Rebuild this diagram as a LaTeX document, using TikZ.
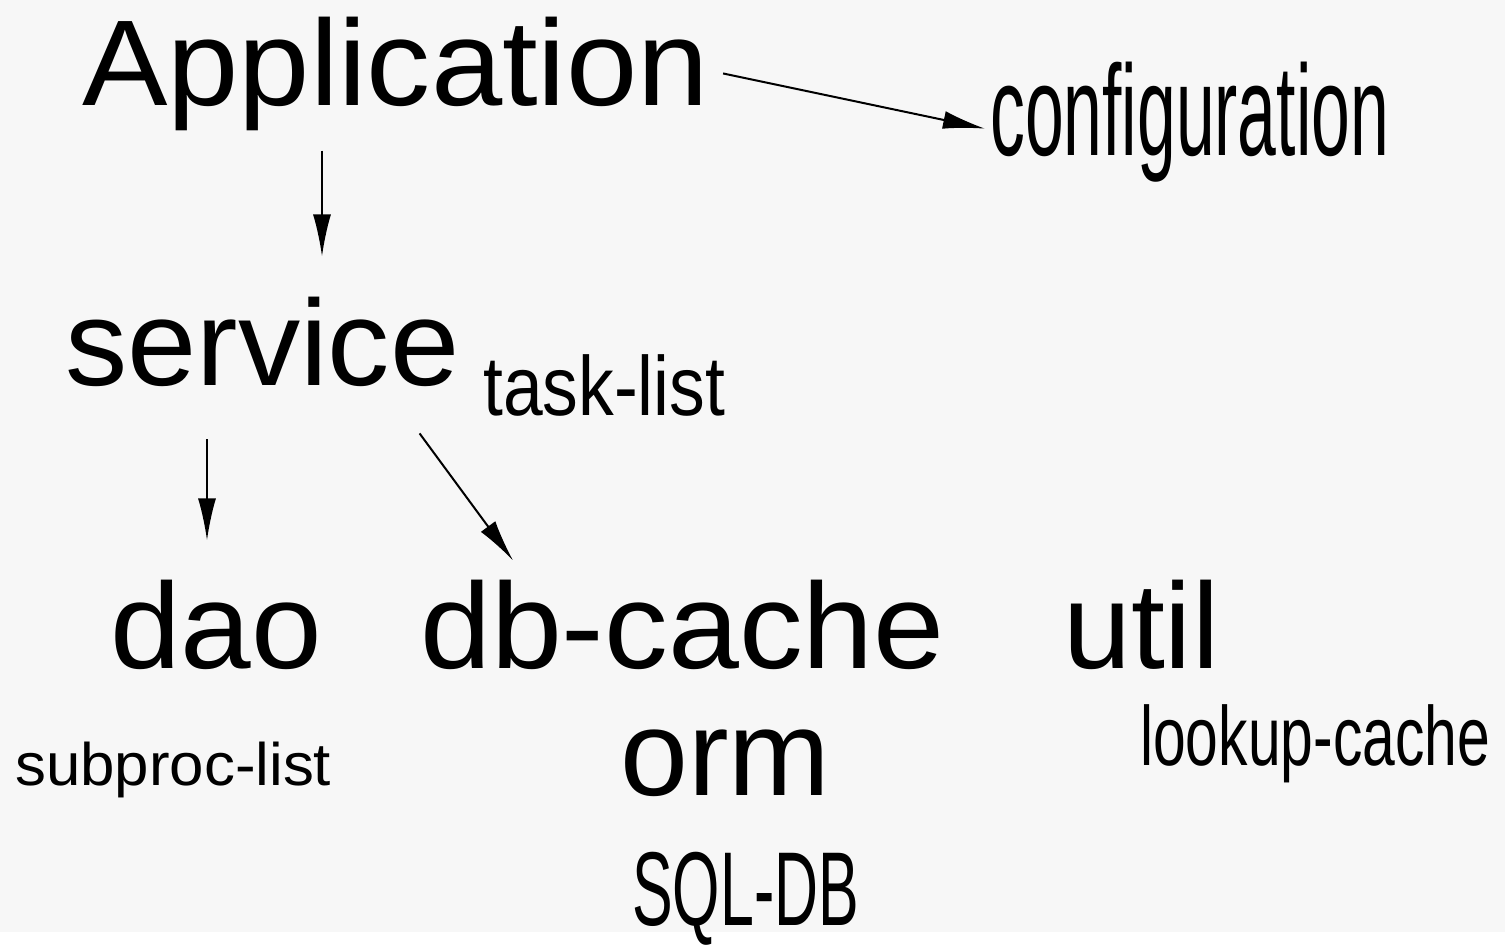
\documentclass[tikz,border=0pt]{standalone}
\usepackage{fontspec}
\setmainfont{Liberation Sans}
\usetikzlibrary{arrows.meta,positioning}

\begin{document}
\begin{tikzpicture}
		[x=1pt,y=-1pt,
			every node/.style={inner sep=0pt,anchor=base west},
			big/.style={font=\fontsize{122}{140}\selectfont},
			mid/.style={font=\fontsize{84}{96}\selectfont},
			tiny/.style={font=\fontsize{60}{70}\selectfont},
			link/.style={-{Latex[length=42pt,width=18pt]},line width=2pt}]
		\fill[black!3] (0,0) rectangle (1505,932);
		% top row
		\node[big] (app) at (82,105) {\scalebox{1.05}[1]{Application}};
		\node[font=\fontsize{129}{140}\selectfont] (conf) at (990,155) {\scalebox{0.54}[1]{configuration}};
		% middle
		\node[big] (serv) at (65,385) {\scalebox{1.02}[1]{service}};
		\node[mid] (task) at (483,415) {\scalebox{0.85}[1]{task-list}};
		% bottom row
		\node[big] (dao) at (110,668) {\scalebox{1.04}[1]{dao}};
		\node[big] (db) at (420,668) {\scalebox{1.045}[1]{db-cache}};
		\node[big] (util) at (1063,668) {util};
		\node[big] (orm) at (620,795) {orm};
		\node[tiny] (sub) at (15,785) {\scalebox{1.03}[1]{subproc-list}};
		\node[mid] (look) at (1140,765) {\scalebox{0.7}[1]{lookup-cache}};
		\node[font=\fontsize{105}{120}\selectfont] (sql) at (632,925) {\scalebox{0.58}[1]{SQL-DB}};
		% arrows
		\draw[link] ([xshift=14pt]app.east) -- ([xshift=-5pt,yshift=-7pt]conf.west);
		\draw[link] ([xshift=240pt,yshift=-20pt]app.south west) -- ([xshift=257pt,yshift=40pt]serv.north west);
		\draw[link] ([xshift=142pt,yshift=-53pt]serv.south west) -- ([xshift=97pt,yshift=39pt]dao.north west);
		\draw[link] ([xshift=-40pt,yshift=-47pt]serv.south east) -- ([xshift=93pt,yshift=19pt]db.north west);
	\end{tikzpicture}
\end{document}
